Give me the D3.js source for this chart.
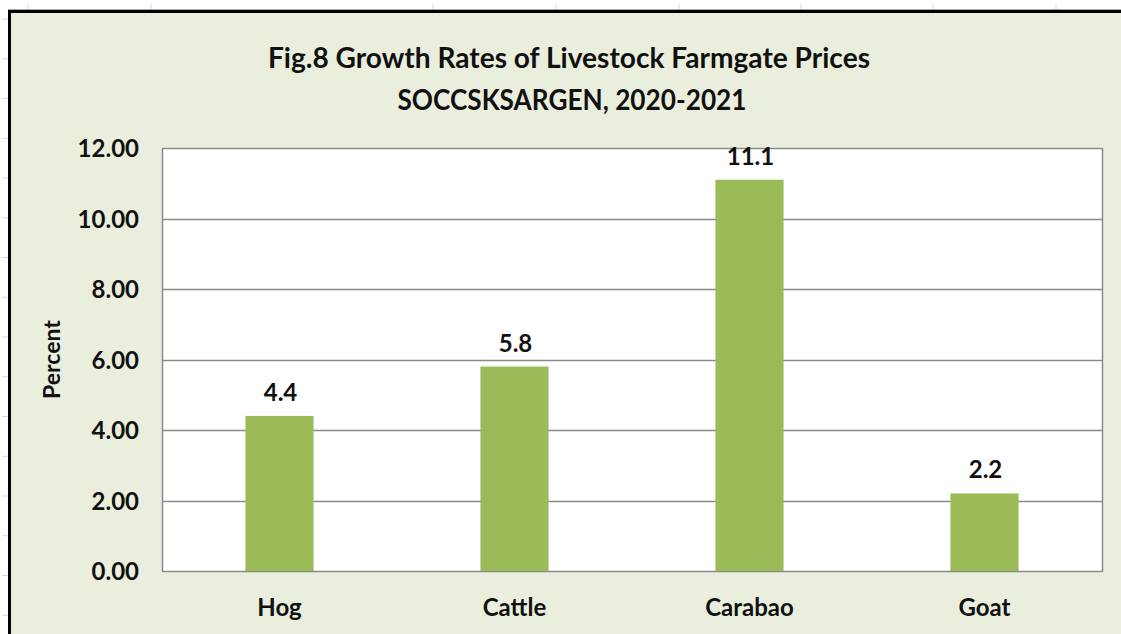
<!DOCTYPE html>
<html>
<head>
<meta charset="utf-8">
<script src="https://cdn.jsdelivr.net/npm/d3@7"></script>
<style>
  html, body { margin: 0; padding: 0; background: #ffffff; }
  svg { display: block; }
  text { font-family: Lato, "Open Sans", sans-serif; font-weight: 700; fill: #111; }
</style>
</head>
<body>
<svg id="chart" width="1121" height="634"></svg>
<script>
const categories = ["Hog", "Cattle", "Carabao", "Goat"];
const values = [4.4, 5.8, 11.1, 2.2];
const dataLabels = ["4.4", "5.8", "11.1", "2.2"];
const yTicks = [0, 2, 4, 6, 8, 10, 12];
const titleLines = ["Fig.8 Growth Rates of Livestock Farmgate Prices", "SOCCSKSARGEN, 2020-2021"];
const yAxisTitle = "Percent";

const W = 1121, H = 634;
const svg = d3.select("#chart");

// spreadsheet background grid marks
const colTicks = [28, 151, 433, 556, 679, 801, 933, 1056];
svg.selectAll(".colTick").data(colTicks).enter().append("line")
  .attr("x1", d => d).attr("x2", d => d).attr("y1", 4).attr("y2", 10)
  .attr("stroke", "#d0d7e5").attr("stroke-width", 1);
const rowTicks = d3.range(0, 16).map(k => 19 + k * 39.75);
svg.selectAll(".rowTick").data(rowTicks).enter().append("line")
  .attr("x1", 2).attr("x2", 8).attr("y1", d => d).attr("y2", d => d)
  .attr("stroke", "#d0d7e5").attr("stroke-width", 1);

// chart area
svg.append("rect").attr("x", 9.5).attr("y", 11.5).attr("width", W).attr("height", H)
  .attr("fill", "#EAEEDD").attr("stroke", "#000").attr("stroke-width", 3);
svg.append("line").attr("x1", 8).attr("x2", W).attr("y1", 9.5).attr("y2", 9.5)
  .attr("stroke", "#aaa").attr("stroke-width", 1);

const plot = { left: 162, right: 1102, top: 148, bottom: 571 };

const x = d3.scaleBand().domain(categories).range([plot.left, plot.right]).padding(0);
const y = d3.scaleLinear().domain([0, 12]).range([plot.bottom, plot.top]);

// plot area
svg.append("rect").attr("x", plot.left).attr("y", plot.top)
  .attr("width", plot.right - plot.left).attr("height", plot.bottom - plot.top)
  .attr("fill", "#ffffff");

// gridlines
svg.append("g").selectAll("line").data(yTicks).enter().append("line")
  .attr("x1", plot.left).attr("x2", plot.right)
  .attr("y1", d => Math.round(y(d)) + 0.5).attr("y2", d => Math.round(y(d)) + 0.5)
  .attr("stroke", "#8a8a8a").attr("stroke-width", 1.5);

// plot border (left & right)
svg.append("line").attr("x1", plot.left + 0.5).attr("x2", plot.left + 0.5)
  .attr("y1", plot.top).attr("y2", plot.bottom + 1)
  .attr("stroke", "#8a8a8a").attr("stroke-width", 1.5);
svg.append("line").attr("x1", plot.right + 0.5).attr("x2", plot.right + 0.5)
  .attr("y1", plot.top).attr("y2", plot.bottom + 1)
  .attr("stroke", "#8a8a8a").attr("stroke-width", 1.5);

// y axis labels
const yAxis = d3.axisLeft(y).tickValues(yTicks).tickFormat(d3.format(".2f")).tickSize(0).tickPadding(0);
const yg = svg.append("g").attr("transform", `translate(139,0)`).call(yAxis);
yg.select(".domain").remove();
yg.selectAll("text").attr("font-size", 24).attr("font-family", "Lato, sans-serif")
  .attr("font-weight", 700).attr("fill", "#111").attr("dy", "0.36em");

// x axis labels
const xAxis = d3.axisBottom(x).tickSize(0).tickPadding(0);
const xg = svg.append("g").attr("transform", `translate(0,${plot.bottom})`).call(xAxis);
xg.select(".domain").remove();
xg.selectAll("text").attr("font-size", 24).attr("font-family", "Lato, sans-serif")
  .attr("font-weight", 700).attr("fill", "#111").attr("dy", null).attr("y", 45);

// bars
const barW = x.bandwidth() * 0.29;
svg.append("g").selectAll("rect").data(values).enter().append("rect")
  .attr("x", (d, i) => x(categories[i]) + x.bandwidth() / 2 - barW / 2)
  .attr("y", d => y(d))
  .attr("width", barW)
  .attr("height", d => y(0) - y(d))
  .attr("fill", "#9BBB59");

// data labels
svg.append("g").selectAll("text").data(values).enter().append("text")
  .attr("x", (d, i) => x(categories[i]) + x.bandwidth() / 2 + 1)
  .attr("y", d => y(d) - 15)
  .attr("text-anchor", "middle")
  .attr("font-size", 24)
  .text((d, i) => dataLabels[i]);

// y axis title
svg.append("text")
  .attr("transform", `translate(60,${(plot.top + plot.bottom) / 2}) rotate(-90)`)
  .attr("text-anchor", "middle")
  .attr("font-size", 23)
  .text(yAxisTitle);

// chart title
const titleWidths = [602, 349];
const titleY = [68, 110];
titleLines.forEach((t, i) => {
  svg.append("text")
    .attr("x", 569 + i * 3)
    .attr("y", titleY[i])
    .attr("text-anchor", "middle")
    .attr("font-size", 29)
    .attr("textLength", titleWidths[i])
    .attr("lengthAdjust", "spacingAndGlyphs")
    .text(t);
});
</script>
</body>
</html>
